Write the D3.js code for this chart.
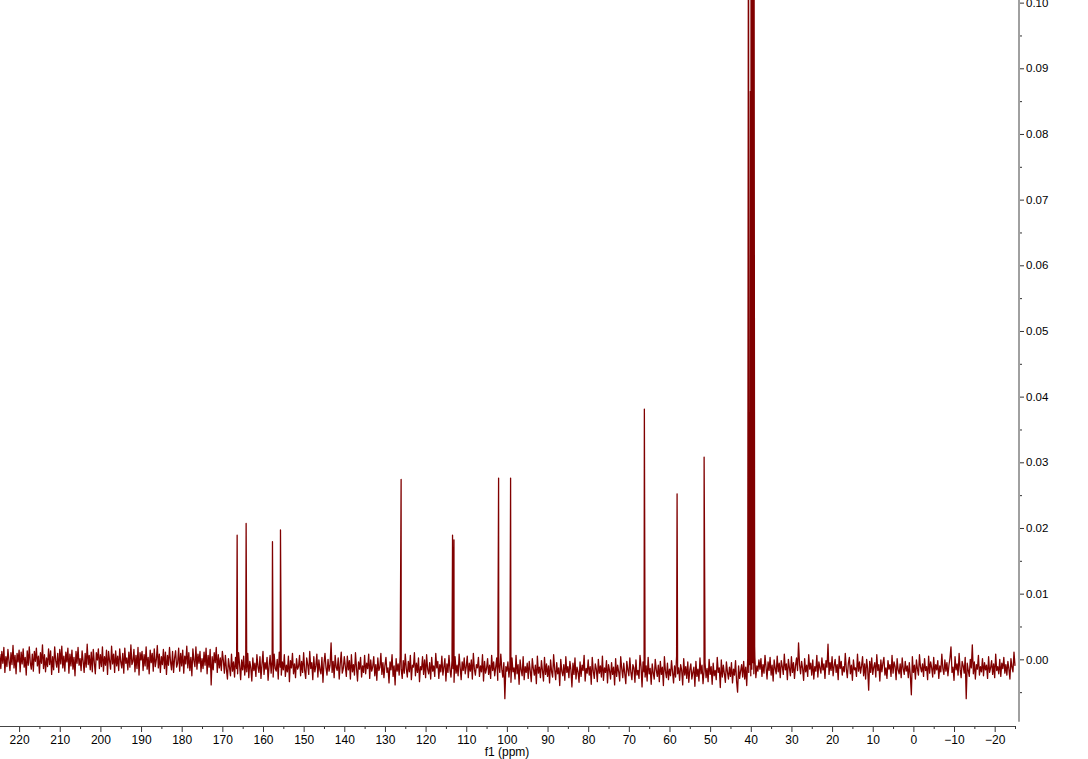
<!DOCTYPE html>
<html>
<head>
<meta charset="utf-8">
<script src="https://cdn.jsdelivr.net/npm/d3@7"></script>
<style>
  html, body { margin: 0; padding: 0; background: #fff; }
  svg { display: block; }
  text { font-family: "Liberation Sans", Arial, sans-serif; fill: #000; }
</style>
</head>
<body>
<svg id="chart" width="1088" height="759"></svg>
<script>
// ---------------- DATA ----------------
const xTickLabels = [220, 210, 200, 190, 180, 170, 160, 150, 140, 130, 120, 110, 100, 90, 80, 70, 60, 50, 40, 30, 20, 10, 0, -10, -20];
const xMinorTicks = [225, 215, 205, 195, 185, 175, 165, 155, 145, 135, 125, 115, 105, 95, 85, 75, 65, 55, 45, 35, 25, 15, 5, -5, -15, -25];
const yTickLabels = [0.00, 0.01, 0.02, 0.03, 0.04, 0.05, 0.06, 0.07, 0.08, 0.09, 0.10];
const yMinorTicks = [-0.005, 0.005, 0.015, 0.025, 0.035, 0.045, 0.055, 0.065, 0.075, 0.085, 0.095];
const xTitle = "f1 (ppm)";

// baseline (noise) samples, from 224.75 ppm downward every 0.25 ppm, intensity in units of 1e-4
const baselineStartPpm = 224.75;
const baselineStepPpm = 0.25;
const baselineE4 = [
  8,-14,12,-6,18,-20,4,-11,15,-2,-17,10,-8,21,-13,6,-22,9,-4,14,
  -19,11,-7,16,-12,3,-24,13,-9,19,-5,-15,8,-18,12,-3,17,-10,5,-21,
  10,-6,22,-14,7,-19,2,-11,16,-8,13,-23,4,-16,19,-2,-12,9,-20,15,
  -7,20,-13,5,-18,11,-4,17,-21,8,-10,14,-15,3,-25,12,-6,18,-9,1,
  -17,13,-3,-20,9,-12,23,-8,6,-16,11,-19,15,-5,-22,10,-1,16,-14,7,
  -11,19,-18,4,-9,14,-23,12,-2,-15,20,-7,8,-20,13,-10,5,-17,16,-4,
  -13,9,-21,17,-6,2,-16,11,-12,22,-8,-3,15,-19,6,-14,18,-24,10,-1,
  12,-17,7,-10,19,-15,3,-22,14,-5,9,-18,16,-11,-1,21,-13,8,-20,4,
  -8,15,-14,11,-23,6,-9,18,-4,-16,12,-20,2,13,-12,-6,17,-18,9,-10,
  14,-21,5,-7,20,-13,10,-17,3,-25,16,-2,-11,19,-15,8,-6,12,-19,1,
  -14,11,-9,17,-22,6,-12,15,-39,4,-16,10,-5,18,-20,7,-13,2,-17,12,
  -2,-21,6,-15,-30,1,-12,-25,8,-18,-4,-27,3,-14,-22,10,-9,-31,-1,-16,
  5,-24,-7,-19,9,-28,-3,-13,-33,2,-17,-6,-26,7,-11,-20,4,-29,-8,12,
  -23,-5,-15,3,-32,-10,6,-21,-1,-27,8,-14,-18,0,-30,11,-12,-24,-4,-16,
  7,-26,-9,-19,5,-34,-2,-13,9,-22,-7,-28,1,-15,-11,6,-25,-3,-20,10,
  -17,-29,2,-8,-23,12,-14,-5,-31,4,-19,-10,8,-27,-1,-16,-22,3,-35,-6,
  9,-13,-24,0,-18,-9,25,-20,-3,-28,6,-12,-17,2,-30,-7,11,-21,-14,4,
  -11,-26,5,-16,-2,-30,7,-19,-8,-24,10,-13,-33,-4,-15,3,-27,-10,-20,6,
  -22,-6,-14,8,-29,-1,-18,-11,4,-25,-8,-32,2,-17,-12,9,-23,-5,-28,-9,
  3,-20,-13,-36,-4,-16,7,-26,-10,-39,1,-18,-7,-24,5,-15,-29,-2,-21,8,
  -14,-27,-3,-19,6,-31,-9,-12,10,-25,-6,-20,2,-34,-11,-16,4,-23,-1,-28,
  7,-15,-22,-5,-30,3,-18,-10,-26,9,-13,-3,-29,-8,-19,5,-24,-12,1,-33,
  -7,-20,6,-16,-27,-2,-14,-35,4,-21,-9,-25,8,-12,-31,-4,-17,2,-22,-11,
  5,-28,-6,-18,-1,-30,9,-15,-24,-8,-13,3,-26,-10,-19,7,-33,-3,-21,-14,
  1,-23,-9,-29,6,-17,-4,-25,-12,2,-32,-7,-20,8,-15,-27,-5,-60,-11,-18,
  -4,-27,-10,-35,2,-19,-13,-30,6,-22,-8,-38,-1,-16,-25,4,-31,-11,-20,-6,
  -29,-3,-18,-34,1,-14,-24,-9,-37,5,-21,-12,-28,-2,-17,-33,3,-23,-7,-26,
  -10,-36,-1,-19,-27,7,-15,-31,-5,-22,-13,-40,0,-18,-25,-8,-32,4,-20,-11,
  -28,-3,-16,-42,-6,-23,2,-30,-12,-19,-35,-4,-26,-9,-17,6,-33,-14,-21,-1,
  -24,-11,-38,3,-18,-29,-7,-15,-34,0,-21,-10,-27,5,-32,-13,-20,-2,-36,-8,
  -17,-30,-5,-23,-12,-39,1,-26,-9,-19,-33,4,-14,-28,-6,-22,-37,-3,-16,-25,
  2,-20,-31,-8,-13,-35,-1,-24,-17,-29,6,-11,-42,-4,-19,-27,-10,-33,3,-22,
  -14,-38,-7,-21,-30,0,-16,-26,-9,-34,-3,-23,-12,-40,4,-18,-28,-6,-31,-15,
  -25,-2,-19,-36,-10,-27,5,-22,-13,-32,-8,-17,-39,1,-24,-11,-29,-4,-35,-16,
  -7,-30,-20,-12,-41,-3,-26,-15,-33,2,-22,-9,-37,-18,-5,-28,-14,-34,0,-23,
  -11,-38,-6,-25,-17,-31,3,-20,-13,-43,-1,-27,-9,-22,-35,-4,-19,-30,-12,-26,
  -5,-36,-15,-24,-2,-33,-50,-10,-29,-18,-8,-27,
  -3,-30,-12,-40,2,-20,-8,-25,-15,-5,-22,3,-28,-10,-18,-1,
  -15,1,-26,-8,-21,6,-12,-30,-4,-17,3,-24,-9,-33,-1,-14,-22,5,-19,-6,
  -28,-2,-11,-23,8,-16,-7,-31,0,-13,-25,4,-20,-5,-29,-10,2,-17,25,-8,
  -22,-3,-14,-32,1,-19,-9,-26,7,-15,-6,-24,-1,-30,-11,-18,6,-27,-4,-13,
  -21,2,-16,-7,-29,-2,-12,23,-23,-5,-17,4,-25,-10,0,-20,-8,-31,5,-14,
  -3,-24,-11,-19,9,-15,-28,-6,3,-22,-9,-32,-1,-16,-13,-26,8,-18,-4,-21,
  -10,4,-25,-7,-30,0,-14,-47,-3,-20,2,-23,-12,-5,-27,7,-17,-8,-33,-1,
  -19,-6,3,-24,-13,-29,-2,-15,-8,-26,6,-21,-4,-11,-31,1,-16,-22,-7,-28,
  2,-14,-23,-3,-18,-10,-28,-5,-25,-54,4,-20,-9,-30,-1,-15,-24,7,-12,-19,
  -7,-26,1,-17,-11,-31,5,-21,-4,-13,-27,3,-22,-8,-16,-2,-29,-10,-19,8,
  -14,-23,-1,-18,-5,-25,-9,2,19,-20,-12,-32,4,-16,-7,-24,9,-15,-28,-3,
  -10,-21,3,-60,-6,-17,-26,0,-13,22,-22,-4,-30,-8,-15,6,-24,-11,-19,1,
  -25,-5,-16,-9,-29,4,-20,-13,-2,-23,-7,-28,8,-17,-11,-22,0,-26,-6,-14,
  3,-21,-8,-24,-3,-15,-30,1,-12,-19,11,-10
];

// resonance lines: position (ppm) and top intensity
const peakPpm   = [166.36, 164.15, 157.67, 155.70, 126.02, 113.37, 113.02, 102.04, 99.09, 66.18, 58.13, 51.48,
                   40.55, 40.30, 40.10, 39.90, 39.70, 39.55, 39.40, 39.20, 39.05];
const peakValue = [0.0189, 0.0207, 0.0179, 0.0197, 0.0274, 0.0189, 0.0182, 0.0276, 0.0276, 0.0381, 0.0252, 0.0308,
                   0.14, 0.0376, 0.0865, 0.16, 0.18, 0.15, 0.029, 0.12, 0.0020];

// ---------------- CHART ----------------
const svg = d3.select("#chart");

const x = d3.scaleLinear().domain([224.7, -25]).range([0, 1015]);
const y = d3.scaleLinear().domain([-0.0095, 0.1004]).range([721.7, 0]);

// build spectrum points
const pts = baselineE4.map((v, i) => ({ ppm: baselineStartPpm - i * baselineStepPpm, v: v * 1e-4 }));
peakPpm.forEach((p, i) => pts.push({ ppm: p, v: peakValue[i] }));
pts.sort((a, b) => b.ppm - a.ppm);

svg.append("defs").append("clipPath").attr("id", "plotClip")
  .append("rect").attr("x", 0).attr("y", 0).attr("width", 1016).attr("height", 722);

svg.append("path")
  .datum(pts)
  .attr("clip-path", "url(#plotClip)")
  .attr("fill", "none")
  .attr("stroke", "#800000")
  .attr("stroke-width", 1.3)
  .attr("stroke-linejoin", "round")
  .attr("d", d3.line().x(d => x(d.ppm)).y(d => y(d.v)));

// X axis
const xAxisY = 726;
const gxMinor = svg.append("g").attr("transform", `translate(0,${xAxisY})`)
  .call(d3.axisBottom(x).tickValues(xMinorTicks).tickSize(3).tickFormat(""));
const gx = svg.append("g").attr("transform", `translate(0,${xAxisY})`)
  .call(d3.axisBottom(x).tickValues(xTickLabels).tickSize(6).tickPadding(3).tickFormat(d3.format("d")));
[gx, gxMinor].forEach(g => {
  g.select(".domain").remove();
  g.selectAll(".tick line").attr("stroke", "#333");
});
gx.selectAll(".tick text").attr("font-size", 12).attr("fill", "#000")
  .style("font-family", '"Liberation Sans", Arial, sans-serif');
svg.append("line")
  .attr("x1", x.range()[0]).attr("x2", x.range()[1])
  .attr("y1", xAxisY + 0.5).attr("y2", xAxisY + 0.5)
  .attr("stroke", "#444").attr("stroke-width", 1);

svg.append("text")
  .attr("x", 507).attr("y", 756)
  .attr("text-anchor", "middle")
  .attr("font-size", 12)
  .text(xTitle);

// Y axis
const yAxisX = 1019;
const gyMinor = svg.append("g").attr("transform", `translate(${yAxisX},0)`)
  .call(d3.axisRight(y).tickValues(yMinorTicks).tickSize(3).tickFormat(""));
const gy = svg.append("g").attr("transform", `translate(${yAxisX},0)`)
  .call(d3.axisRight(y).tickValues(yTickLabels).tickSize(5).tickPadding(2).tickFormat(d3.format(".2f")));
[gy, gyMinor].forEach(g => {
  g.select(".domain").remove();
  g.selectAll(".tick line").attr("stroke", "#333");
});
gy.selectAll(".tick text").attr("font-size", 11.5).attr("fill", "#000")
  .style("font-family", '"Liberation Sans", Arial, sans-serif');
svg.append("line")
  .attr("x1", yAxisX).attr("x2", yAxisX)
  .attr("y1", 0).attr("y2", y.range()[0])
  .attr("stroke", "#a0a0a0").attr("stroke-width", 2);
</script>
</body>
</html>
